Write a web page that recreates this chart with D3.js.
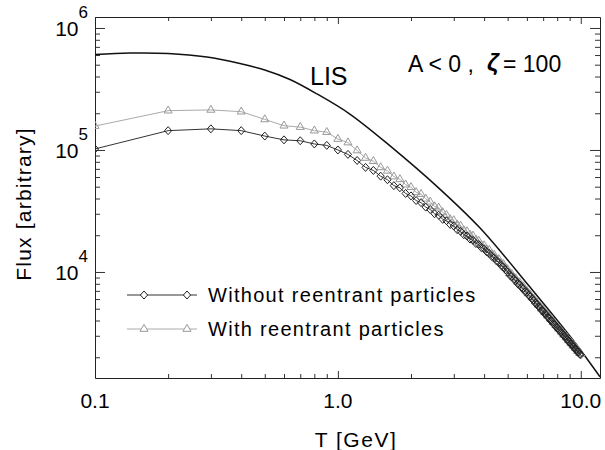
<!DOCTYPE html>
<html>
<head>
<meta charset="utf-8">
<script src="https://cdn.jsdelivr.net/npm/d3@7.9.0/dist/d3.min.js"></script>
<style>
  html, body { margin: 0; padding: 0; background: #fff; }
  svg { display: block; font-family: "Liberation Sans", Arial, sans-serif; }
  .tick line { stroke: #333; }
  .domain { stroke: #222; }
</style>
</head>
<body>
<div id="chart"></div>
<script>
// ---- data ----
const energies = [
  0.1, 0.2, 0.3, 0.4, 0.5, 0.6, 0.7, 0.8, 0.9, 1.0,
  1.1, 1.2, 1.3, 1.4, 1.5, 1.6, 1.7, 1.8, 1.9, 2.0,
  2.1, 2.2, 2.3, 2.4, 2.5, 2.6, 2.7, 2.8, 2.9, 3.0,
  3.1, 3.2, 3.3, 3.4, 3.5, 3.6, 3.7, 3.8, 3.9, 4.0,
  4.1, 4.2, 4.3, 4.4, 4.5, 4.6, 4.7, 4.8, 4.9, 5.0,
  5.1, 5.2, 5.3, 5.4, 5.5, 5.6, 5.7, 5.8, 5.9, 6.0,
  6.1, 6.2, 6.3, 6.4, 6.5, 6.6, 6.7, 6.8, 6.9, 7.0,
  7.1, 7.2, 7.3, 7.4, 7.5, 7.6, 7.7, 7.8, 7.9, 8.0,
  8.1, 8.2, 8.3, 8.4, 8.5, 8.6, 8.7, 8.8, 8.9, 9.0,
  9.1, 9.2, 9.3, 9.4, 9.5, 9.6, 9.7, 9.8, 9.9, 10.0
];

// without reentrant particles (diamonds)
const fluxWithout = [
  1.02e5, 1.44e5, 1.49e5, 1.44e5, 1.30e5, 1.21e5, 1.19e5, 1.12e5, 1.09e5, 1.00e5,
  9.2e4, 8.2e4, 7.2e4, 6.8e4, 6.1e4, 5.7e4, 5.1e4, 4.9e4, 4.4e4, 4.2e4,
  3.85e4, 3.7e4, 3.4e4, 3.25e4, 3.0e4, 2.92e4, 2.7e4, 2.63e4, 2.45e4, 2.38e4,
  2.22e4, 2.15e4, 2.02e4, 1.97e4, 1.86e4, 1.82e4, 1.71e4, 1.68e4, 1.58e4, 1.55e4,
  1.46e4, 1.42e4, 1.34e4, 1.31e4, 1.23e4, 1.2e4, 1.13e4, 1.1e4, 1.04e4, 1.0e4,
  9.4e3, 9.2e3, 8.7e3, 8.5e3, 8.0e3, 7.9e3, 7.45e3, 7.3e3, 6.9e3, 6.8e3,
  6.45e3, 6.3e3, 6.0e3, 5.87e3, 5.55e3, 5.47e3, 5.2e3, 5.1e3, 4.85e3, 4.78e3,
  4.55e3, 4.48e3, 4.27e3, 4.2e3, 4.0e3, 3.96e3, 3.77e3, 3.72e3, 3.55e3, 3.51e3,
  3.36e3, 3.32e3, 3.18e3, 3.14e3, 3.0e3, 2.98e3, 2.85e3, 2.82e3, 2.7e3, 2.68e3,
  2.56e3, 2.55e3, 2.44e3, 2.43e3, 2.32e3, 2.31e3, 2.21e3, 2.21e3, 2.12e3, 2.1e3
];

// with reentrant particles (triangles)
const fluxWith = [
  1.57e5, 2.10e5, 2.13e5, 2.06e5, 1.78e5, 1.58e5, 1.54e5, 1.44e5, 1.40e5, 1.23e5,
  1.15e5, 9.9e4, 8.6e4, 8.1e4, 7.2e4, 6.75e4, 6.05e4, 5.75e4, 5.2e4, 4.95e4,
  4.5e4, 4.35e4, 3.98e4, 3.76e4, 3.45e4, 3.36e4, 3.08e4, 2.93e4, 2.7e4, 2.65e4,
  2.44e4, 2.39e4, 2.19e4, 2.15e4, 2.01e4, 1.98e4, 1.84e4, 1.8e4, 1.66e4, 1.65e4,
  1.53e4, 1.51e4, 1.41e4, 1.38e4, 1.28e4, 1.27e4, 1.18e4, 1.16e4, 1.08e4, 1.05e4,
  9.75e3, 9.6e3, 9.0e3, 8.85e3, 8.3e3, 8.2e3, 7.75e3, 7.6e3, 7.2e3, 7.0e3,
  6.65e3, 6.5e3, 6.18e3, 6.05e3, 5.73e3, 5.63e3, 5.36e3, 5.25e3, 5.0e3, 4.92e3,
  4.68e3, 4.6e3, 4.4e3, 4.33e3, 4.13e3, 4.08e3, 3.88e3, 3.83e3, 3.66e3, 3.58e3,
  3.43e3, 3.39e3, 3.24e3, 3.2e3, 3.06e3, 3.04e3, 2.91e3, 2.88e3, 2.75e3, 2.73e3,
  2.61e3, 2.6e3, 2.49e3, 2.48e3, 2.37e3, 2.36e3, 2.25e3, 2.25e3, 2.16e3, 2.14e3
];

// local interstellar spectrum
const lisEnergies = [0.1, 0.139, 0.2, 0.289, 0.395, 0.5, 0.635, 0.82, 1.12, 1.64, 2.63, 3.85, 6.18, 9.29, 12.0];
const lisFlux = [6.06e5, 6.23e5, 6.18e5, 5.78e5, 5.11e5, 4.52e5, 3.78e5, 2.88e5, 1.97e5, 1.08e5, 4.78e4, 2.29e4, 7.52e3, 2.77e3, 1.38e3];

const xMajor = [0.1, 1, 10];
const xMajorLabels = ['0.1', '1.0', '10.0'];
const xMinor = [0.2, 0.3, 0.4, 0.5, 0.6, 0.7, 0.8, 0.9, 2, 3, 4, 5, 6, 7, 8, 9];
const yMajor = [1e4, 1e5, 1e6];
const yMajorExp = ['4', '5', '6'];
const yMinor = [2e3, 3e3, 4e3, 5e3, 6e3, 7e3, 8e3, 9e3,
  2e4, 3e4, 4e4, 5e4, 6e4, 7e4, 8e4, 9e4,
  2e5, 3e5, 4e5, 5e5, 6e5, 7e5, 8e5, 9e5];

const legendLabels = ['Without reentrant particles', 'With reentrant particles'];

// ---- chart ----
function renderChart() {
  const width = 605, height = 450;
  const margin = { top: 17, right: 5, bottom: 72, left: 95 };
  const usable = {
    left: margin.left,
    top: margin.top,
    right: width - margin.right,
    bottom: height - margin.bottom,
  };

  const svg = d3.select('#chart').append('svg')
    .attr('width', width).attr('height', height);

  const xScale = d3.scaleLog().domain([0.1, 12]).range([usable.left, usable.right]);
  const yScale = d3.scaleLog().domain([1352, 1.23e6]).range([usable.bottom, usable.top]);

  svg.append('defs').append('clipPath').attr('id', 'plot-clip')
    .append('rect')
    .attr('x', usable.left).attr('y', usable.top)
    .attr('width', usable.right - usable.left)
    .attr('height', usable.bottom - usable.top);

  // axes on all four sides, ticks pointing inward
  const addAxis = (axisFn, scale, transform, minor, major, minorLen, majorLen) => {
    svg.append('g').attr('transform', transform)
      .call(axisFn(scale).tickValues(minor).tickSize(-minorLen).tickSizeOuter(0).tickFormat(''))
      .call(g => g.select('.domain').remove());
    svg.append('g').attr('transform', transform)
      .call(axisFn(scale).tickValues(major).tickSize(-majorLen).tickSizeOuter(0).tickFormat(''));
  };
  addAxis(d3.axisBottom, xScale, `translate(0,${usable.bottom})`, xMinor, xMajor, 4, 7);
  addAxis(d3.axisTop, xScale, `translate(0,${usable.top})`, xMinor, xMajor, 4, 7);
  addAxis(d3.axisLeft, yScale, `translate(${usable.left},0)`, yMinor, yMajor, 5, 10);
  addAxis(d3.axisRight, yScale, `translate(${usable.right},0)`, yMinor, yMajor, 5, 10);

  // x tick labels
  svg.append('g').selectAll('text')
    .data(xMajor)
    .join('text')
    .attr('x', d => xScale(d))
    .attr('y', usable.bottom + 30)
    .attr('text-anchor', 'middle')
    .style('font-size', '21px')
    .text((d, i) => xMajorLabels[i]);

  // y tick labels: 10^n
  const yLab = svg.append('g').selectAll('text')
    .data(yMajor)
    .join('text')
    .attr('x', 88)
    .attr('y', d => yScale(d) + 8)
    .attr('text-anchor', 'end')
    .style('font-size', '21px');
  yLab.append('tspan').text('10');
  yLab.append('tspan')
    .attr('dy', -18)
    .style('font-size', '17px')
    .text((d, i) => yMajorExp[i]);

  // axis titles
  svg.append('text')
    .attr('x', 356).attr('y', 447)
    .attr('text-anchor', 'middle')
    .style('font-size', '21px')
    .style('letter-spacing', '1.5px')
    .text('T [GeV]');
  svg.append('text')
    .attr('transform', 'translate(31,204) rotate(-90)')
    .attr('text-anchor', 'middle')
    .style('font-size', '21px')
    .style('letter-spacing', '1.2px')
    .text('Flux [arbitrary]');

  const plot = svg.append('g').attr('clip-path', 'url(#plot-clip)');

  // LIS curve
  const lisLine = d3.line()
    .x(d => xScale(d[0]))
    .y(d => yScale(d[1]))
    .curve(d3.curveCatmullRom.alpha(0.5));
  plot.append('path')
    .datum(d3.zip(lisEnergies, lisFlux))
    .attr('d', lisLine)
    .attr('fill', 'none')
    .attr('stroke', '#111')
    .attr('stroke-width', 1.5);

  const line = d3.line().x(d => xScale(d[0])).y(d => yScale(d[1]));
  const triangle = d3.symbol().type(d3.symbolTriangle).size(28);
  const rhombus = {
    draw(ctx) {
      ctx.moveTo(0, -4); ctx.lineTo(3.6, 0); ctx.lineTo(0, 4); ctx.lineTo(-3.6, 0); ctx.closePath();
    }
  };
  const diamond = d3.symbol().type(rhombus);

  const withData = d3.zip(energies, fluxWith);
  const withoutData = d3.zip(energies, fluxWithout);

  // with reentrant (light gray triangles)
  plot.append('path').datum(withData)
    .attr('d', line).attr('fill', 'none')
    .attr('stroke', '#aaa').attr('stroke-width', 1);
  plot.append('g').selectAll('path')
    .data(withData)
    .join('path')
    .attr('transform', d => `translate(${xScale(d[0])},${yScale(d[1])})`)
    .attr('d', triangle)
    .attr('fill', 'none')
    .attr('stroke', '#999');

  // without reentrant (dark diamonds)
  plot.append('path').datum(withoutData)
    .attr('d', line).attr('fill', 'none')
    .attr('stroke', '#333').attr('stroke-width', 1);
  plot.append('g').selectAll('path')
    .data(withoutData)
    .join('path')
    .attr('transform', d => `translate(${xScale(d[0])},${yScale(d[1])})`)
    .attr('d', diamond)
    .attr('fill', 'none')
    .attr('stroke', '#222');

  // annotations
  svg.append('text')
    .attr('x', 310).attr('y', 85)
    .style('font-size', '25px')
    .text('LIS');
  svg.append('text')
    .attr('x', 408).attr('y', 72)
    .style('font-size', '23px')
    .text('A < 0 ,');
  svg.append('text')
    .attr('x', 487).attr('y', 71)
    .style('font-size', '24px')
    .style('font-weight', 'bold')
    .style('font-style', 'italic')
    .text('ζ');
  svg.append('text')
    .attr('x', 503).attr('y', 72)
    .style('font-size', '23px')
    .text('= 100');

  // legend
  const legend = svg.append('g');
  const rows = [
    { y: 295, stroke: '#333', mark: diamond, mStroke: '#222' },
    { y: 329, stroke: '#aaa', mark: triangle, mStroke: '#999' },
  ];
  rows.forEach((r, i) => {
    legend.append('line')
      .attr('x1', 127).attr('x2', 197).attr('y1', r.y).attr('y2', r.y)
      .attr('stroke', r.stroke);
    [144, 187].forEach(mx => {
      legend.append('path')
        .attr('transform', `translate(${mx},${r.y})`)
        .attr('d', r.mark)
        .attr('fill', '#fff')
        .attr('stroke', r.mStroke);
    });
    legend.append('text')
      .attr('x', 208).attr('y', r.y + 7)
      .style('font-size', '20px')
      .style('letter-spacing', '1.3px')
      .text(legendLabels[i]);
  });
}

renderChart();
</script>
</body>
</html>
